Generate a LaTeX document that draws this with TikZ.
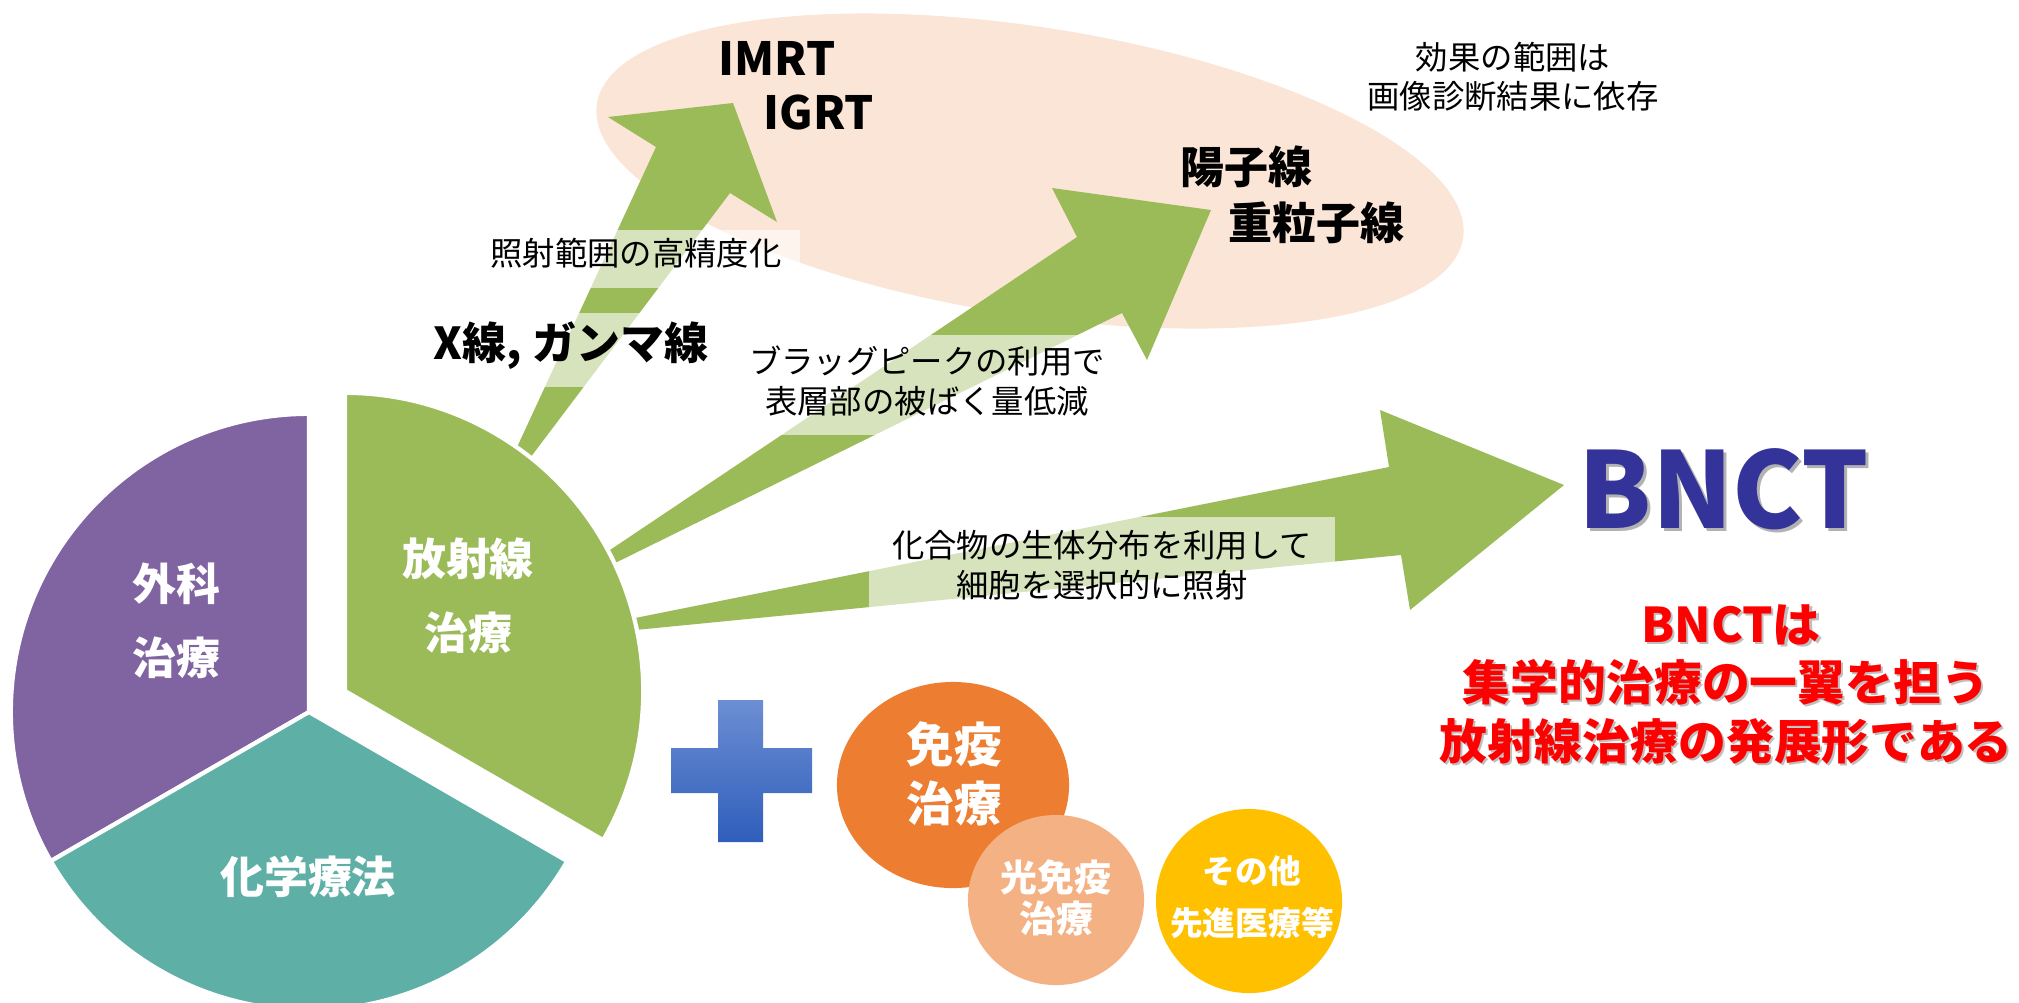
\documentclass[tikz,border=0pt]{standalone}
\usepackage{fontspec}
\setmainfont{Noto Sans CJK JP}
\usetikzlibrary{shapes.geometric}
\definecolor{peach}{HTML}{FBE5D6}
\definecolor{grn}{HTML}{9BBB59}
\definecolor{purp}{HTML}{8064A2}
\definecolor{teal2}{HTML}{5EAFA6}
\definecolor{orng}{HTML}{ED7D31}
\definecolor{lorng}{HTML}{F4B183}
\definecolor{yel}{HTML}{FFC000}
\definecolor{bnct}{HTML}{333399}
\definecolor{plustop}{HTML}{6C8ED3}
\definecolor{plusbot}{HTML}{2F5EBB}
\tikzset{
  lbl/.style={font=\fontsize{9.2}{11.4}\selectfont, align=center, inner sep=0pt, text=black},
  bandbox/.style={fill=white, fill opacity=0.6, text opacity=1, inner sep=0pt, draw=none},
  boldlbl/.style={font=\fontsize{12.5}{13}\selectfont\bfseries, align=center, inner sep=0pt, text=black},
  pielbl/.style={font=\fontsize{12.5}{21}\selectfont\bfseries, align=center, inner sep=0pt, text=white},
  sector/.style={draw=white, line width=1.2pt, line join=round},
  redlbl/.style={font=\fontsize{13.6}{16}\selectfont\bfseries, inner sep=0pt, text=red},
  redshadow/.style={font=\fontsize{13.6}{16}\selectfont\bfseries, inner sep=0pt, text=black, text opacity=0.25},
}
\begin{document}
\begin{tikzpicture}[x=0.01cm,y=-0.01cm]
\useasboundingbox (0,0) rectangle (2019,1002);
% peach ellipse
\fill[peach, rotate around={-8.85:(1030,171)}] (1030,171) ellipse [x radius=4.38cm, y radius=1.44cm];
% arrows
\fill[grn] (512,458) -- (656,147) -- (608,117) -- (733,103) -- (777,222) -- (730,193) -- (527,462) -- cycle;
\fill[grn] (601,556) -- (1077,237) -- (1052,188) -- (1211,210) -- (1147,360) -- (1122,313) -- (607,567) -- cycle;
\fill[grn] (625,620) -- (1389,467) -- (1380,410) -- (1564,485) -- (1410,610) -- (1401,555) -- (625,631) -- cycle;
% pie
\coordinate (C) at (309,712);
\coordinate (G) at (345,691);
\filldraw[sector, fill=purp] (C) -- ++(90:2.98cm) arc[start angle=90, end angle=210, radius=2.98cm] -- cycle;
\filldraw[sector, fill=teal2] (C) -- ++(210:2.98cm) arc[start angle=210, end angle=330, radius=2.98cm] -- cycle;
\filldraw[sector, fill=grn] (G) -- ++(-30:2.98cm) arc[start angle=-30, end angle=90, radius=2.98cm] -- cycle;
\node[pielbl] (rad) at (468,596) {放射線\\治療};
\node[pielbl] (surg) at (176,621) {外科\\治療};
\node[pielbl] (chem) at (308,877) {化学療法};
% bands
\node[bandbox, minimum width=3.16cm, minimum height=0.58cm] (b1) at (642,259) {};
\node[bandbox, minimum width=2.85cm, minimum height=0.74cm] (b2) at (572,350) {};
\node[bandbox, minimum width=3.65cm, minimum height=1.00cm] (b3) at (927,385) {};
\node[bandbox, minimum width=4.65cm, minimum height=0.89cm] (b4) at (1102,562) {};
% arrow labels
\node[lbl] (l1) at (636,253) {照射範囲の高精度化};
\node[boldlbl] (l2) at (571,346) {X線, ガンマ線};
\node[lbl] (l3) at (927,381) {ブラッグピークの利用で\\表層部の被ばく量低減};
\node[lbl] (l4) at (1102,565) {化合物の生体分布を利用して\\細胞を選択的に照射};
% ellipse labels
\node[boldlbl, font=\fontsize{13}{14}\selectfont\bfseries, anchor=west] (imrt) at (718,58) {IMRT};
\node[boldlbl, font=\fontsize{13}{14}\selectfont\bfseries, anchor=west] (igrt) at (763,112) {IGRT};
\node[boldlbl, anchor=west] (yoshi) at (1180,167) {陽子線};
\node[boldlbl, anchor=west] (juryu) at (1228,223) {重粒子線};
\node[lbl, font=\fontsize{9.2}{11}\selectfont] (kouka) at (1513,77) {効果の範囲は\\画像診断結果に依存};
% plus
\shade[top color=plustop, bottom color=plusbot] (718,700) -- (763,700) -- (763,748) -- (812,748) -- (812,793) -- (763,793) -- (763,842) -- (718,842) -- (718,793) -- (671,793) -- (671,748) -- (718,748) -- cycle;
% circles
\node[ellipse, fill=orng, minimum width=2.32cm, minimum height=2.06cm, inner sep=0pt] (imm) at (953,785) {};
\node[pielbl, font=\fontsize{13.5}{16.8}\selectfont\bfseries] (immt) at (954,774) {免疫\\治療};
\node[ellipse, fill=lorng, minimum width=1.76cm, minimum height=1.70cm, inner sep=0pt] (pit) at (1056,900) {};
\node[pielbl, font=\fontsize{10.5}{11.7}\selectfont\bfseries] (pitt) at (1056,898) {光免疫\\治療};
\node[ellipse, fill=yel, minimum width=1.86cm, minimum height=1.84cm, inner sep=0pt] (oth) at (1249,901) {};
\node[pielbl, font=\fontsize{9.3}{14.8}\selectfont\bfseries] (otht) at (1252,897) {その他\\先進医療等};
% BNCT
\node[font=\fontsize{30}{32}\selectfont\bfseries, inner sep=0pt, text=black, text opacity=0.3] (bnctsh) at (1727,492) {BNCT};
\node[font=\fontsize{30}{32}\selectfont\bfseries, inner sep=0pt, text=bnct] (bnctt) at (1724,489) {BNCT};
\node[redshadow] (r1s) at (1733,627) {BNCTは};
\node[redshadow] (r2s) at (1728,684) {集学的治療の一翼を担う};
\node[redshadow] (r3s) at (1728,743) {放射線治療の発展形である};
\node[redlbl] (r1) at (1731,625) {BNCTは};
\node[redlbl] (r2) at (1726,682) {集学的治療の一翼を担う};
\node[redlbl] (r3) at (1726,741) {放射線治療の発展形である};
\end{tikzpicture}
\end{document}
